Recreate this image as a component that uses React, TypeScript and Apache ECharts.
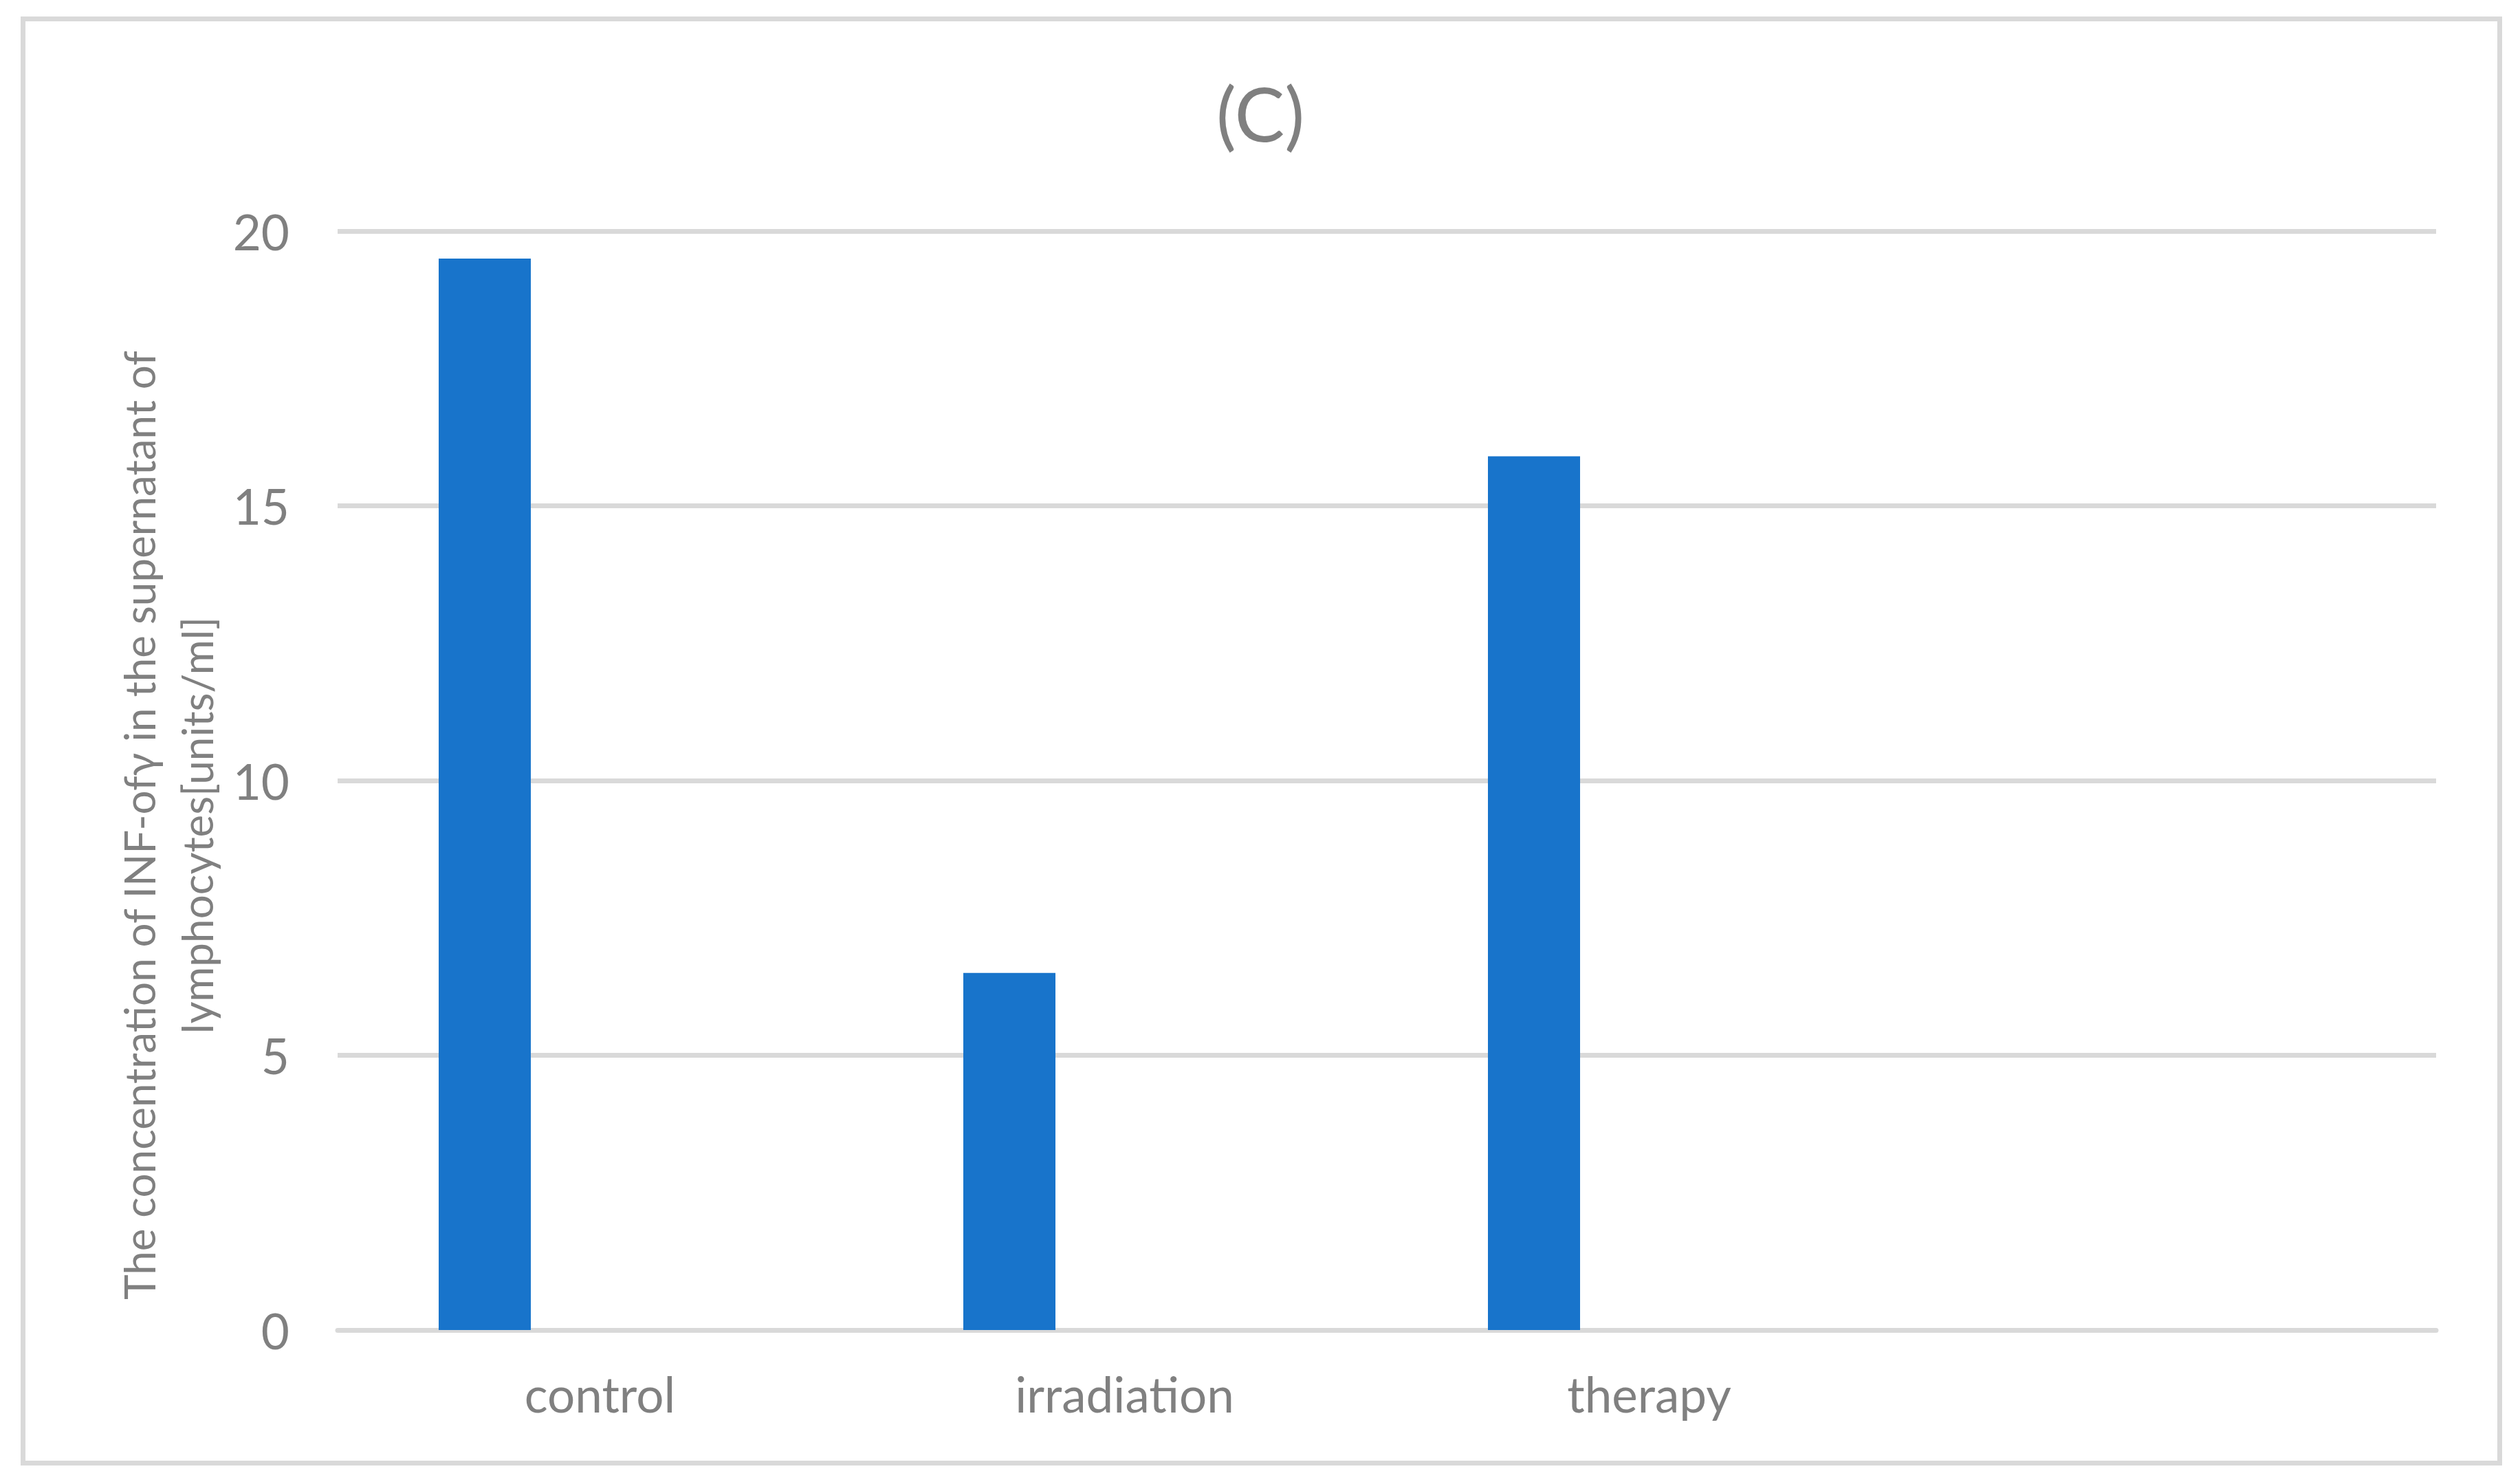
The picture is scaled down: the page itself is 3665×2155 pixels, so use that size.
import React, { useEffect, useRef } from "react";
import * as echarts from "echarts";

const categories = ["control", "irradiation", "therapy", ""];
const concentrationValues = [19.5, 6.5, 15.9, "-"];
const emptySeriesValues = ["-", "-", "-", "-"];
const yTicks = { min: 0, max: 20, interval: 5 };
const chartTitle = "(C)";
const yAxisTitleLines = [
  "The concentration of INF-of\u03B3 in the supernatant of",
  "lymphocytes[units/ml]",
];

const FONT = "Lato, 'Open Sans', sans-serif";
const GRAY = "#808080";
const GRID = "#d9d9d9";
const BAR = "#1874CB";

export default function App() {
  const ref = useRef<HTMLDivElement>(null);
  useEffect(() => {
    if (!ref.current) return;
    const chart = echarts.init(ref.current, null, { renderer: "svg" });
    chart.setOption({
      animation: false,
      backgroundColor: "#ffffff",
      grid: { left: 491, right: 122, top: 336, bottom: 221, containLabel: false },
      xAxis: {
        type: "category",
        data: categories,
        axisLine: { show: true, lineStyle: { color: GRID, width: 7 } },
        axisTick: { show: false },
        axisLabel: { color: GRAY, fontFamily: FONT, fontSize: 71, margin: 57 },
        splitLine: { show: false },
      },
      yAxis: {
        type: "value",
        min: yTicks.min,
        max: yTicks.max,
        interval: yTicks.interval,
        axisLine: { show: false },
        axisTick: { show: false },
        axisLabel: { color: GRAY, fontFamily: FONT, fontSize: 71, margin: 70 },
        splitLine: { show: true, lineStyle: { color: GRID, width: 7 } },
      },
      series: [
        {
          type: "bar",
          data: concentrationValues,
          barWidth: 134,
          barGap: "150%",
          itemStyle: { color: BAR },
          z: 1,
        },
        {
          type: "bar",
          data: emptySeriesValues,
          barWidth: 134,
          barGap: "150%",
          itemStyle: { color: "#E97132" },
        },
      ],
      graphic: [
        {
          type: "rect",
          shape: { x: 33.5, y: 27.5, width: 3602, height: 2100 },
          style: { fill: "none", stroke: GRID, lineWidth: 7 },
          silent: true,
        },
        {
          type: "text",
          x: 1833,
          y: 163,
          style: {
            text: chartTitle,
            fill: GRAY,
            font: `109px ${FONT}`,
            textAlign: "center",
            textVerticalAlign: "middle",
          },
        },
        {
          type: "text",
          x: 244,
          y: 1200,
          rotation: Math.PI / 2,
          style: {
            text: yAxisTitleLines.join("\n"),
            fill: GRAY,
            font: `62px ${FONT}`,
            lineHeight: 84,
            textAlign: "center",
            textVerticalAlign: "middle",
          },
        },
      ],
    });
    return () => chart.dispose();
  }, []);
  return (
    <div
      ref={ref}
      style={{ position: "fixed", left: 0, top: 0, width: 3665, height: 2155 }}
    />
  );
}
